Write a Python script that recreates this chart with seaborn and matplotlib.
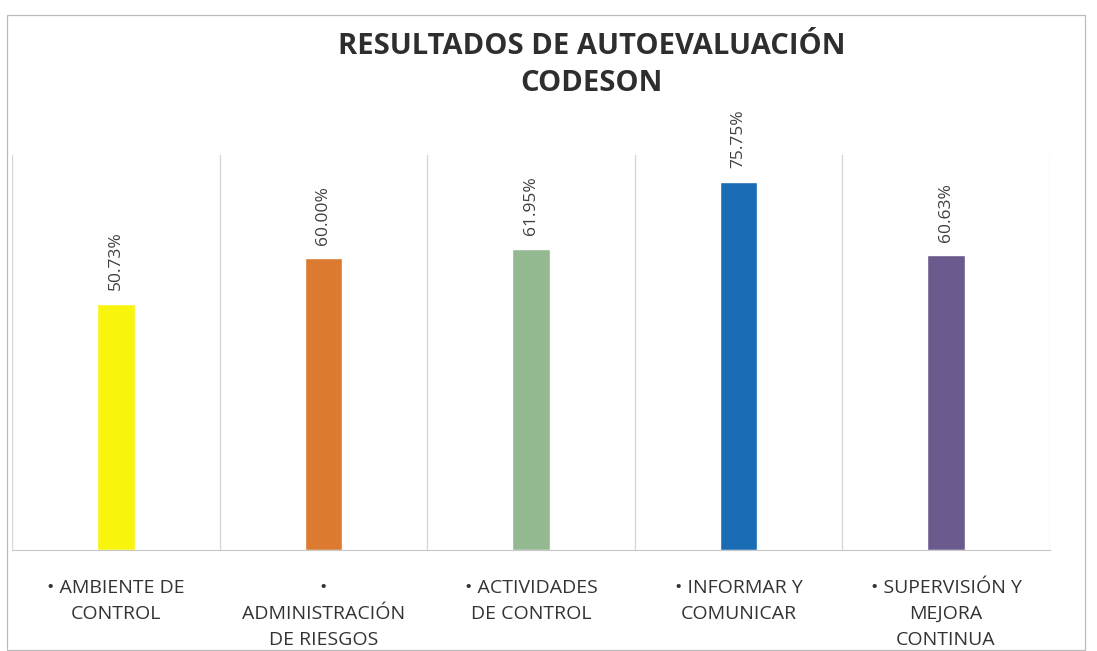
import pandas as pd
import numpy as np
import seaborn as sns
import matplotlib.pyplot as plt
from matplotlib.patches import Rectangle

# data
categories = ['• AMBIENTE DE\nCONTROL',
              '•\nADMINISTRACIÓN\nDE RIESGOS',
              '• ACTIVIDADES\nDE CONTROL',
              '• INFORMAR Y\nCOMUNICAR',
              '• SUPERVISIÓN Y\nMEJORA\nCONTINUA']
values = [50.73, 60.00, 61.95, 75.75, 60.63]
bar_colors = ['#f9f40c', '#db7a30', '#93b991', '#1a6cb4', '#6b5a8d']

df = pd.DataFrame({'categoria': categories, 'valor': values})

sns.set_style('white')
plt.rcParams['font.family'] = ['Open Sans', 'DejaVu Sans']

fig = plt.figure(figsize=(10.97, 6.51), dpi=100)
ax = fig.add_axes([0.011, 0.155, 0.946, 0.607])

sns.barplot(data=df, x='categoria', y='valor', hue='categoria',
            palette=bar_colors, width=0.18, legend=False, ax=ax,
            saturation=1)

ax.set_ylim(0, 81.3)
ax.set_xlim(-0.5, len(categories) - 0.5)
# category separators, edges included
for b in np.arange(-0.5, len(categories), 1):
    ax.axvline(b, color='#d6d6d6', lw=0.9, zorder=0)

for i, v in enumerate(values):
    ax.text(i, v + 2.8, f'{v:.2f}%', rotation=90, ha='center', va='bottom',
            fontsize=12.5, color='#404040')

for s in ['top', 'left', 'right']:
    ax.spines[s].set_visible(False)
ax.spines['bottom'].set_color('#c8c8c8')
ax.set_yticks([])
ax.set_xlabel('')
ax.set_ylabel('')
ax.tick_params(axis='x', length=0, pad=20.5)
ax.set_xticks(range(len(categories)))
ax.set_xticklabels(categories, fontsize=14, color='#333333',
                   linespacing=1.58)

fig.text(0.539, 0.928, 'RESULTADOS DE AUTOEVALUACIÓN', ha='center', va='center',
         fontsize=21, fontweight='bold', color='#2e2e2e')
fig.text(0.539, 0.872, 'CODESON', ha='center', va='center',
         fontsize=21, fontweight='bold', color='#2e2e2e')

# outer chart border (bottom edge runs off the scan)
fig.patches.append(Rectangle((0.006, 0.002), 0.983, 0.975, transform=fig.transFigure,
                             fill=False, edgecolor='#bbbbbb', lw=0.9))

plt.savefig('out.png')
